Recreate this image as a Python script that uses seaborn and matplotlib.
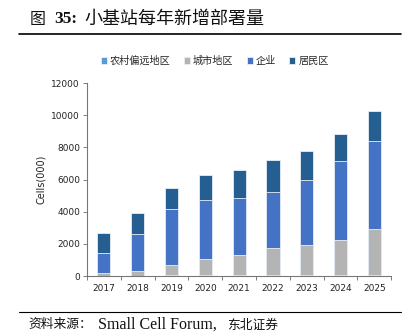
import numpy as np
import pandas as pd
import matplotlib
matplotlib.use("Agg")
import matplotlib.pyplot as plt
import seaborn as sns

years = ["2017", "2018", "2019", "2020", "2021", "2022", "2023", "2024", "2025"]
rural = [20, 30, 40, 40, 40, 40, 40, 40, 40]
urban = [150, 260, 660, 1010, 1260, 1710, 1860, 2210, 2860]
enterprise = [1280, 2310, 3450, 3650, 3550, 3500, 4100, 4900, 5500]
residential = [1250, 1300, 1350, 1600, 1750, 1950, 1750, 1700, 1850]

series_names = ["农村偏远地区", "城市地区", "企业", "居民区"]
series_values = [rural, urban, enterprise, residential]
colors = ["#5B9BD5", "#B4B4B4", "#4472C4", "#255E91"]

sns.set_theme(style="white")
plt.rcParams["font.family"] = ["DejaVu Sans", "Noto Sans CJK SC"]

fig = plt.figure(figsize=(4.18, 3.35), dpi=100)
ax = fig.add_axes([0.208, 0.176, 0.728, 0.576])

cum = np.cumsum(np.array(series_values), axis=0)
# Draw stacked layers from the top one down so each shorter layer covers the lower part
for i in range(len(series_names) - 1, -1, -1):
    df = pd.DataFrame({"year": years, "value": cum[i]})
    sns.barplot(data=df, x="year", y="value", color=colors[i], width=0.39,
                saturation=1, ax=ax, edgecolor="#E8EEF5", linewidth=0.6,
                label=series_names[i])

ax.set_ylim(0, 12000)
ax.set_xlim(-0.5, 8.5)
ax.set_yticks(range(0, 12001, 2000))
ax.set_ylabel("Cells(000)", fontsize=7, color="#222222", labelpad=4)
ax.set_xlabel("")
ax.tick_params(axis="both", labelsize=6.5, colors="#222222")
ax.tick_params(axis="y", length=3, width=0.6, color="#666666", left=True, direction="out", pad=2)
ax.tick_params(axis="x", length=0, pad=6)
# tick marks sitting between the categories on the x axis
ax.set_xticks(np.arange(-0.5, 8.6, 1), minor=True)
ax.tick_params(axis="x", which="minor", length=3, width=0.6, color="#666666", bottom=True, direction="out")
for s in ["top", "right"]:
    ax.spines[s].set_visible(False)
for s in ["left", "bottom"]:
    ax.spines[s].set_color("#777777")
    ax.spines[s].set_linewidth(0.8)

handles, labels = ax.get_legend_handles_labels()
order = [labels.index(n) for n in series_names]
leg = ax.legend([handles[k] for k in order], series_names, loc="center",
                bbox_to_anchor=(0.42, 1.115), ncol=4, frameon=False,
                prop={"family": ["Noto Sans CJK SC"], "size": 7.3},
                handlelength=0.6, handleheight=0.6, handletextpad=0.3,
                columnspacing=1.3, borderaxespad=0)

fig.text(0.07, 0.943, "图", fontsize=11.5, fontweight=500,
         family=["Noto Sans CJK SC"], ha="left", va="center", color="#111111")
fig.text(0.13, 0.943, "35:", fontsize=12.5, fontweight="bold",
         family=["Liberation Serif"], ha="left", va="center", color="#111111")
fig.text(0.203, 0.943, "小基站每年新增部署量", fontsize=13, fontweight=500,
         family=["Noto Sans CJK SC"], ha="left", va="center", color="#111111")
fig.add_artist(plt.Line2D([0.045, 0.96], [0.898, 0.898], color="black", linewidth=1.2))
fig.add_artist(plt.Line2D([0.045, 0.96], [0.068, 0.068], color="black", linewidth=0.8))
fig.text(0.067, 0.03, "资料来源：", fontsize=9.2, family=["Noto Sans CJK SC"],
         ha="left", va="center", color="#111111")
fig.text(0.234, 0.03, "Small Cell Forum,", fontsize=11.5, family=["Liberation Serif"],
         ha="left", va="center", color="#111111")
fig.text(0.543, 0.03, "东北证券", fontsize=9.2, family=["Noto Sans CJK SC"],
         ha="left", va="center", color="#111111")

fig.savefig("out.png", dpi=100)
